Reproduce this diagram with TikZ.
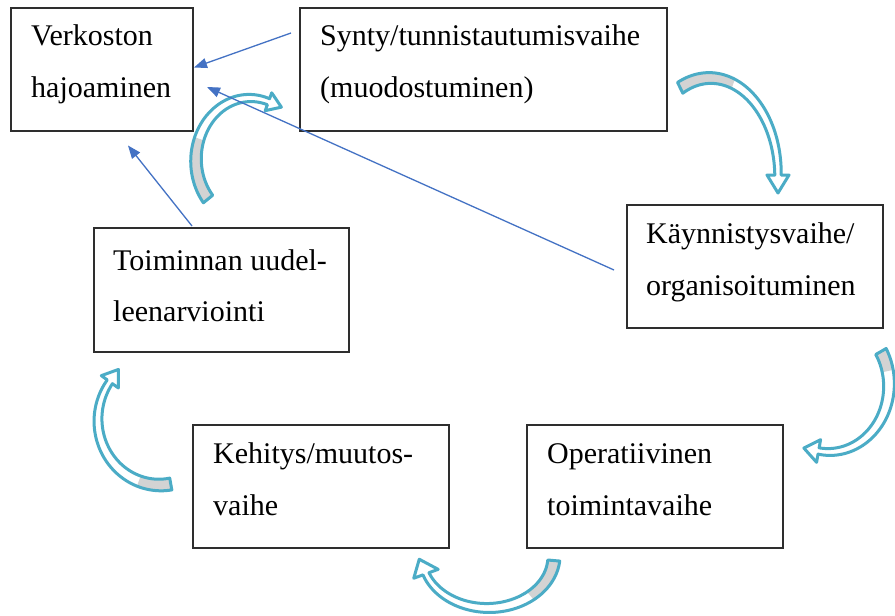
\documentclass[tikz,border=0pt]{standalone}
\usepackage{fontspec}
\setmainfont{Liberation Serif}
\usetikzlibrary{arrows.meta,calc}
\definecolor{ribbon}{HTML}{4BACC6}
\definecolor{fold}{HTML}{D3D3D3}
\definecolor{link}{HTML}{4472C4}

% Curved ribbon arrow on an elliptical arc.
% #1,#2 centre; #3,#4 radii; #5 tail angle; #6 head angle;
% #7 half-width at the tail; #8 half-width at the neck; #9 angle where the grey fold ends.
% Head size comes from \headw (half-width) and \headl (length).
\newcommand\bentarrow[9]{%
  \pgfmathsetmacro\bsg{2*((#6)>(#5))-1}%
  \pgfmathsetmacro\bux{-(#3)*sin(#6)*\bsg}%
  \pgfmathsetmacro\buy{(#4)*cos(#6)*\bsg}%
  \pgfmathsetmacro\bun{veclen(\bux,\buy)}%
  \pgfmathsetmacro\bux{\bux/\bun}%
  \pgfmathsetmacro\buy{\buy/\bun}%
  \begin{scope}[declare function={bw(\t)=(#7)+((#8)-(#7))*(\t-(#5))/((#6)-(#5));}]
    \def\bpath{plot[domain=#5:#6,samples=60] ({#1+(#3+bw(\x))*cos(\x)},{#2+(#4+bw(\x))*sin(\x)})
      -- ({#1+(#3+\headw)*cos(#6)},{#2+(#4+\headw)*sin(#6)})
      -- ({#1+#3*cos(#6)+\headl*\bux},{#2+#4*sin(#6)+\headl*\buy})
      -- ({#1+(#3-\headw)*cos(#6)},{#2+(#4-\headw)*sin(#6)})
      -- plot[domain=#6:#5,samples=60] ({#1+(#3-bw(\x))*cos(\x)},{#2+(#4-bw(\x))*sin(\x)})
      -- cycle}%
    \fill[white] \bpath;
    \fill[fold] plot[domain=#5:#9,samples=40] ({#1+(#3+bw(\x))*cos(\x)},{#2+(#4+bw(\x))*sin(\x)})
      -- plot[domain=#9:#5,samples=40] ({#1+(#3-bw(\x))*cos(\x)},{#2+(#4-bw(\x))*sin(\x)}) -- cycle;
    \draw[ribbonline] \bpath;
  \end{scope}}

\begin{document}
\begin{tikzpicture}[x=1pt,y=-1pt,
  stage/.style={draw=black!82, line width=1.1pt, fill=white, inner sep=0pt, outer sep=0pt, anchor=north west},
  label/.style={font=\fontsize{30}{52}\selectfont, inner sep=0pt, anchor=base west},
  ribbonline/.style={draw=ribbon, line width=3pt, line join=round},
  linkline/.style={draw=link, line width=1.3pt, -{Triangle[length=13pt,width=10pt]}}]

\useasboundingbox (0,0) rectangle (895,616);
\fill[white] (0,0) rectangle (895,616);

% stage boxes
\node[stage, minimum width=182pt, minimum height=123pt] (b1) at (11,8) {};
\node[stage, minimum width=367pt, minimum height=123pt] (b2) at (300,8) {};
\node[stage, minimum width=256pt, minimum height=123pt] (b3) at (627,205) {};
\node[stage, minimum width=255pt, minimum height=124pt] (b4) at (94,228) {};
\node[stage, minimum width=256pt, minimum height=123pt] (b5) at (193,425) {};
\node[stage, minimum width=256pt, minimum height=123pt] (b6) at (527,425) {};

% box texts
\node[label] (t1a) at (31,45) {Verkoston};
\node[label] (t1b) at (31,97) {hajoaminen};
\node[label] (t2a) at (320,45) {Synty/tunnistautumisvaihe};
\node[label] (t2b) at (320,97) {(muodostuminen)};
\node[label] (t3a) at (646,243) {Käynnistysvaihe/};
\node[label] (t3b) at (646,295) {organisoituminen};
\node[label] (t4a) at (113,270) {Toiminnan uudel-};
\node[label] (t4b) at (113,321) {leenarviointi};
\node[label] (t5a) at (213,463) {Kehitys/muutos-};
\node[label] (t5b) at (213,515) {vaihe};
\node[label] (t6a) at (547,463) {Operatiivinen};
\node[label] (t6b) at (547,515) {toimintavaihe};

% curved cycle arrows
\def\headw{9.5}\def\headl{14}
\bentarrow{250}{160}{54}{62}{141}{290}{6}{3.2}{200}
\def\headw{11}\def\headl{18}
\bentarrow{710}{175}{68}{97}{-116}{0}{6}{3.2}{-70}
\def\headw{11.5}\def\headl{15}
\bentarrow{829}{385}{60}{67}{-30}{100}{6}{3.2}{-12}
\def\headw{13}\def\headl{16}
\bentarrow{488}{556}{66}{52}{5}{160}{6}{3.2}{50}
\def\headw{10.5}\def\headl{15}
\bentarrow{160}{420}{62}{65}{80}{216}{6}{3.2}{110}

% feedback links into the first box
\coordinate (l1s) at ($(b2.west)+(-9,-36.5)$);
\coordinate (l1e) at ($(b1.east)+(1,-2)$);
\coordinate (l2s) at ($(b3.west)+(-13,3.5)$);
\coordinate (l2e) at ($(b1.east)+(14,17.5)$);
\coordinate (l3s) at ($(b4.north)+(-29.5,-2)$);
\coordinate (l3e) at ($(b1.south)+(26,14.5)$);
\draw[linkline] (l1s) -- (l1e);
\draw[linkline] (l2s) -- (l2e);
\draw[linkline] (l3s) -- (l3e);
\end{tikzpicture}
\end{document}
